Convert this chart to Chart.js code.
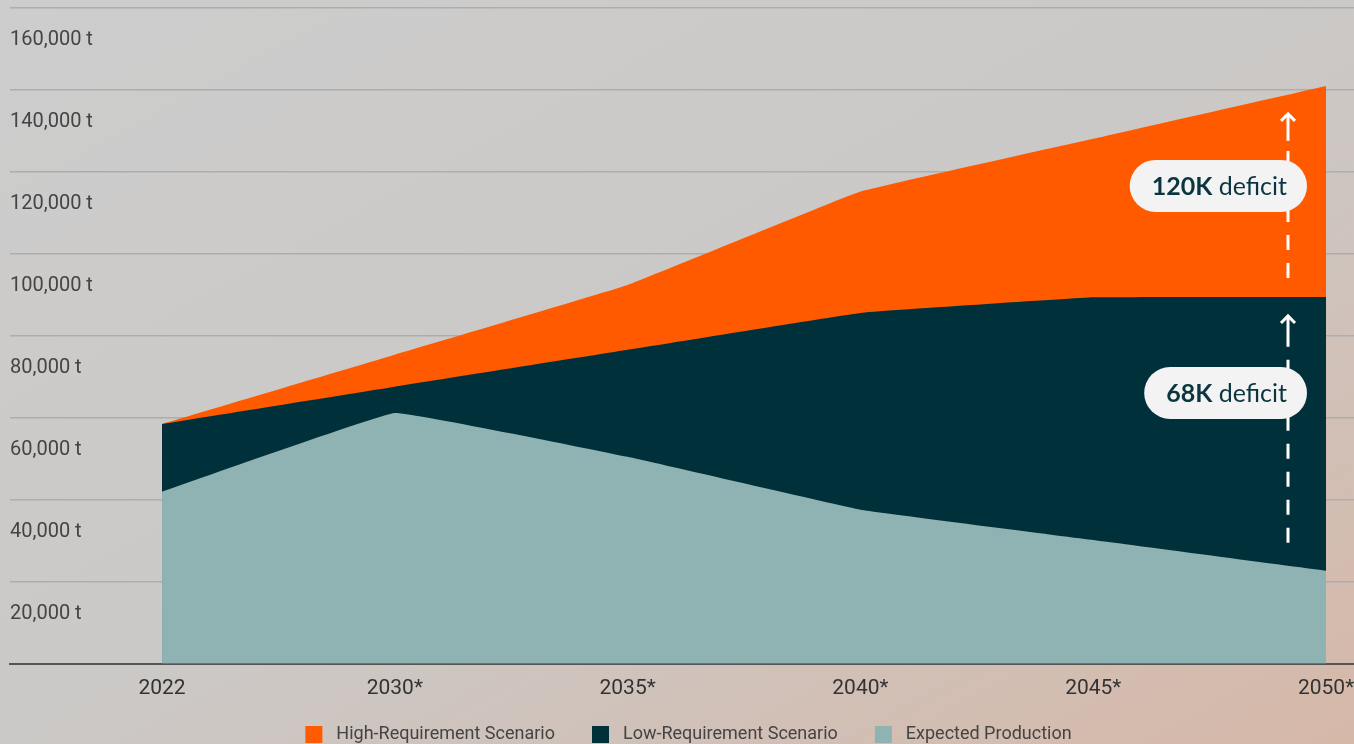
<!DOCTYPE html>
<html>
<head>
<meta charset="utf-8">
<script src="https://cdn.jsdelivr.net/npm/chart.js@4/dist/chart.umd.min.js"></script>
<style>
  html, body { margin: 0; padding: 0; }
  body {
    width: 1354px; height: 744px; overflow: hidden;
    background: linear-gradient(to bottom right, #cdcdcd 0%, #cbc9c7 50%, #d6b8a8 100%);
  }
  #wrap { position: relative; width: 1354px; height: 744px; }
</style>
</head>
<body>
<div id="wrap"><canvas id="chart"></canvas></div>
<script>
// data
const years = ['2022', '2030*', '2035*', '2040*', '2045*', '2050*'];
const highReq = [58500, 75400, 92400, 115200, 128100, 141000];
const lowReq = [58500, 67600, 76600, 85600, 89400, 89500];
const expected = [42000, 61200, 50500, 37600, 30200, 22700];
const yTicks = [0, 20000, 40000, 60000, 80000, 100000, 120000, 140000, 160000];
const deficits = [['120K', 'deficit'], ['68K', 'deficit']];

const ORANGE = '#ff5a00', DARK = '#00303a', TEAL = '#8fb2b2';

const pts = arr => arr.map((v, i) => ({ x: i, y: v }));

// legend swatch: 17px square with some room on the left
function swatch(color) {
  const c = document.createElement('canvas');
  c.width = 35; c.height = 17;
  const g = c.getContext('2d');
  g.fillStyle = color;
  g.fillRect(13, 0, 17, 17);
  return c;
}

function area(label, values, color) {
  return {
    label: label,
    data: pts(values),
    backgroundColor: color,
    borderColor: color,
    borderWidth: 0,
    pointRadius: 0,
    pointStyle: swatch(color),
    fill: 'origin',
    tension: 0.06
  };
}

// dashed arrows and pills at the right side
const deficitPlugin = {
  id: 'deficits',
  afterDatasetsDraw(chart) {
    const { ctx, scales: { x, y } } = chart;
    const last = years.length - 1;
    const ax = Math.round(x.getPixelForValue(last)) - 38;
    const yHigh = y.getPixelForValue(highReq[last]);
    const yLow = y.getPixelForValue(lowReq[last]);
    const yExp = y.getPixelForValue(expected[last]);

    const arrows = [[yLow - 19, yHigh + 27], [yExp - 28, yLow + 18]];
    ctx.save();
    ctx.strokeStyle = '#ffffff';
    ctx.lineWidth = 3;
    arrows.forEach(([bottom, tip]) => {
      ctx.setLineDash([15, 13]);
      ctx.beginPath();
      ctx.moveTo(ax, bottom);
      ctx.lineTo(ax, tip + 28);
      ctx.stroke();
      ctx.setLineDash([]);
      ctx.beginPath();
      ctx.moveTo(ax, tip + 28);
      ctx.lineTo(ax, tip + 1);
      ctx.stroke();
      ctx.beginPath();
      ctx.moveTo(ax - 7, tip + 8);
      ctx.lineTo(ax, tip + 1);
      ctx.lineTo(ax + 7, tip + 8);
      ctx.stroke();
    });

    const centers = [yHigh + 100, yLow + 96];
    deficits.forEach(([num, word], i) => {
      const cy = centers[i];
      ctx.font = 'bold 25px Lato';
      const w1 = ctx.measureText(num).width;
      ctx.font = '25px Lato';
      const w2 = ctx.measureText(' ' + word).width;
      const right = ax - 1;
      const left = right - w1 - w2;
      const h = 52, r = 26;
      ctx.fillStyle = '#f3f3f3';
      ctx.beginPath();
      ctx.roundRect(left - 22, cy - h / 2, (ax + 19) - (left - 22), h, r);
      ctx.fill();
      ctx.fillStyle = '#0b3640';
      ctx.textBaseline = 'middle';
      ctx.textAlign = 'left';
      ctx.font = 'bold 25px Lato';
      ctx.fillText(num, left, cy + 1);
      ctx.font = '25px Lato';
      ctx.fillText(' ' + word, left + w1, cy + 1);
    });
    ctx.restore();
  }
};

new Chart(document.getElementById('chart'), {
  type: 'line',
  data: {
    datasets: [
      area('Expected Production', expected, TEAL),
      area('Low-Requirement Scenario', lowReq, DARK),
      area('High-Requirement Scenario', highReq, ORANGE)
    ]
  },
  options: {
    responsive: true,
    maintainAspectRatio: false,
    animation: false,
    layout: { padding: { top: 8, left: 10, right: 0, bottom: -9 } },
    plugins: {
      tooltip: { enabled: false },
      legend: {
        position: 'bottom',
        reverse: true,
        labels: {
          usePointStyle: true,
          pointStyleWidth: 35,
          boxHeight: 17,
          padding: 24,
          color: '#444',
          font: { family: 'Roboto', size: 18 }
        }
      }
    },
    scales: {
      x: {
        type: 'linear',
        min: -0.653,
        max: 5.12,
        afterBuildTicks: s => { s.ticks = years.map((_, i) => ({ value: i })); },
        afterFit: s => { s.height -= 12; s.paddingLeft = 0; s.paddingRight = 0; },
        grid: { display: false, drawTicks: false },
        border: { display: true, color: '#555', width: 2 },
        ticks: {
          padding: 12,
          maxRotation: 0,
          autoSkip: false,
          color: '#333',
          font: { family: 'Roboto', size: 21 },
          callback: v => years[v] ?? ''
        }
      },
      y: {
        min: 0,
        max: 160000,
        afterBuildTicks: s => { s.ticks = yTicks.map(v => ({ value: v })); },
        afterFit: s => { s.paddingTop = 0; s.paddingBottom = 0; },
        grid: { color: '#adadad', lineWidth: 1.5, drawTicks: false },
        border: { display: false },
        ticks: {
          mirror: true,
          padding: 0,
          labelOffset: 32,
          color: '#444',
          font: { family: 'Roboto', size: 20 },
          callback: v => v === 0 ? '' : v.toLocaleString('en-US') + ' t'
        }
      }
    }
  },
  plugins: [deficitPlugin]
});
</script>
</body>
</html>
